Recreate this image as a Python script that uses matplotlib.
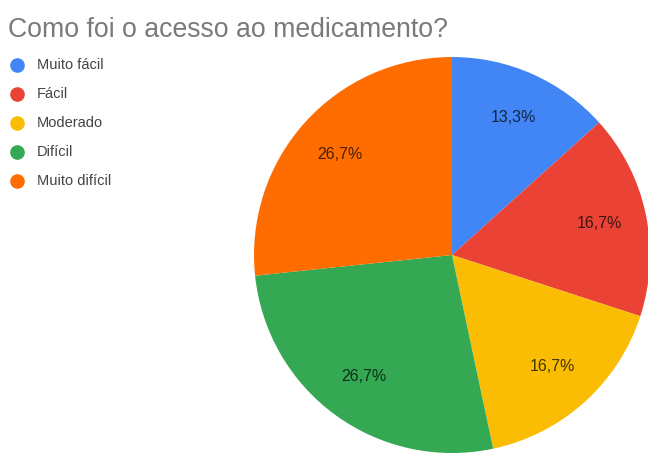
import matplotlib
matplotlib.use("Agg")
import matplotlib.pyplot as plt

# data
categories = ["Muito fácil", "Fácil", "Moderado", "Difícil", "Muito difícil"]
values = [4, 5, 5, 8, 8]
colors = ["#4285F4", "#EA4335", "#FBBC04", "#34A853", "#FF6D01"]
title = "Como foi o acesso ao medicamento?"

W, H = 648, 453
cx, cy, R = 452, 255, 198  # pie centre and radius in pixels

plt.rcParams["font.family"] = ["Liberation Sans", "DejaVu Sans"]
fig = plt.figure(figsize=(W / 100, H / 100), dpi=100)
ax = fig.add_axes([0, 0, 1, 1])

wedges, texts, autotexts = ax.pie(
    values, colors=colors, startangle=90, counterclock=False, radius=1,
    autopct=lambda p: f"{p:.1f}%".replace(".", ","), pctdistance=0.76,
    wedgeprops=dict(linewidth=0),
    textprops=dict(fontsize=11.5, color="black", alpha=0.72))

ax.set_xlim(-cx / R, (W - cx) / R)
ax.set_ylim((cy - H) / R, cy / R)
ax.set_aspect("auto")
ax.axis("off")

fig.text(8 / W, 1 - 30 / H, title, fontsize=19.2, color="#7a7a7a",
         va="center", ha="left")

# legend, drawn by hand to match the row spacing
for i, (lab, col) in enumerate(zip(categories, colors)):
    y = 1 - (65 + 29 * i) / H
    fig.add_artist(plt.Line2D([17 / W], [y], marker="o", markersize=9.5,
                              color=col, linestyle="none",
                              transform=fig.transFigure))
    fig.text(37 / W, y, lab, fontsize=10.5, color="#444444", va="center", ha="left")

fig.savefig("out.png", dpi=100)
